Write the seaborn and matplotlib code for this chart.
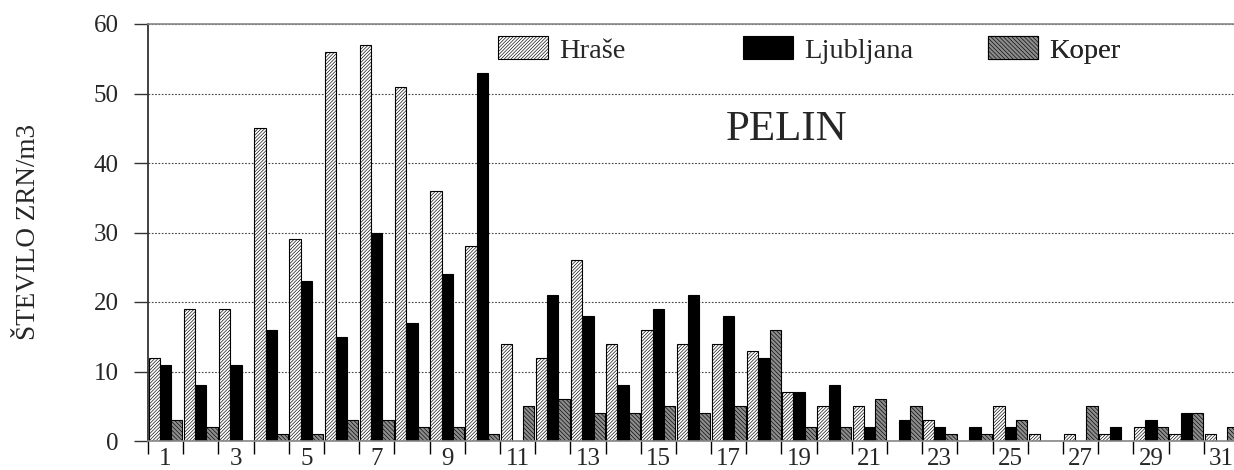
import pandas as pd
import numpy as np
import matplotlib.pyplot as plt
import seaborn as sns
from matplotlib.patches import Patch
from matplotlib.ticker import MultipleLocator

# ==============================================================
# Podatki (dnevne koncentracije peloda pelina)
# ==============================================================

dnevi = list(range(1, 32))
hrase = [12, 19, 19, 45, 29, 56, 57, 51, 36, 28, 14, 12, 26, 14, 16, 14,
         14, 13, 7, 5, 5, 0, 3, 0, 5, 1, 1, 1, 2, 1, 1]
ljubljana = [11, 8, 11, 16, 23, 15, 30, 17, 24, 53, 0, 21, 18, 8, 19, 21,
             18, 12, 7, 8, 2, 3, 2, 2, 2, 0, 0, 2, 3, 4, 0]
koper = [3, 2, 0, 1, 1, 3, 3, 2, 2, 1, 5, 6, 4, 4, 5, 4,
         5, 16, 2, 2, 6, 5, 1, 1, 3, 0, 5, 0, 2, 4, 2]
postaje = ["Hraše", "Ljubljana", "Koper"]
y_ticks = [0, 10, 20, 30, 40, 50, 60]

df = pd.DataFrame({
    "dan": dnevi * 3,
    "postaja": np.repeat(postaje, len(dnevi)),
    "vrednost": hrase + ljubljana + koper,
})

# Configuration graphique
sns.set_style("white")
plt.rcParams['font.family'] = ['Liberation Serif', 'DejaVu Serif']
plt.rcParams['hatch.linewidth'] = 0.45

fig = plt.figure(figsize=(12.34, 4.70), dpi=100)
ax = fig.add_axes([148 / 1234, 29 / 470, 1091 / 1234, 417 / 470])

sns.barplot(data=df, x="dan", y="vrednost", hue="postaja", hue_order=postaje,
            palette=["white", "black", "white"], saturation=1, width=0.96,
            gap=0, errorbar=None, legend=False, ax=ax,
            edgecolor="black", linewidth=0.8)

# hatch za posamezne postaje
H_HATCH = "//////////"
K_HATCH = "\\\\\\\\\\\\\\\\"
stili = {0: ("white", H_HATCH), 1: ("black", None), 2: ("#8c8c8c", K_HATCH)}
for i, cont in enumerate(ax.containers):
    fc, h = stili[i]
    for bar in cont:
        bar.set_facecolor(fc)
        if h:
            bar.set_hatch(h)

ax.set_xlim(-0.5, 30.5)
ax.set_ylim(0, 60)
ax.set_yticks(y_ticks)
ax.tick_params(axis="y", direction="out", length=10, width=1, color="#333333",
               labelsize=18, pad=11, left=True)

ax.set_xticks(range(0, 31, 2))
ax.set_xticklabels([str(d) for d in dnevi[::2]], fontsize=18)
ax.xaxis.set_minor_locator(MultipleLocator(1, offset=0.5))
ax.tick_params(axis="x", which="major", length=0, pad=5)
ax.tick_params(axis="x", which="minor", direction="out", length=9, width=1,
               color="black", bottom=True)
ax.set_xlabel("")
ax.set_ylabel("ŠTEVILO ZRN/m3", fontsize=19.5, labelpad=38)

ax.set_axisbelow(True)
ax.yaxis.grid(True, linestyle=(0, (1.5, 1.5)), color="#444444", linewidth=0.8)
for s in ["top", "bottom"]:
    ax.spines[s].set_color("#888888")
    ax.spines[s].set_linewidth(1.2)
ax.spines["left"].set_color("#333333")
ax.spines["left"].set_linewidth(1.3)
ax.spines["right"].set_visible(False)

ax.text(0.585, 0.746, "PELIN", transform=ax.transAxes, fontsize=31,
        ha="center", va="center")

# legenda: vsaka postaja posebej, enakomerno razporejene
handles = [Patch(facecolor="white", edgecolor="black", hatch=H_HATCH, linewidth=0.8),
           Patch(facecolor="black", edgecolor="black", linewidth=0.8),
           Patch(facecolor="#8c8c8c", edgecolor="black", hatch=K_HATCH, linewidth=0.8)]
for h, lab, xa in zip(handles, postaje, [0.3208, 0.5454, 0.770]):
    leg = ax.legend([h], [lab], loc="center left", bbox_to_anchor=(xa, 0.938),
                    frameon=False, fontsize=20.5, handlelength=1.76, handleheight=0.88,
                    handletextpad=0.4, borderpad=0, borderaxespad=0)
    ax.add_artist(leg)

fig.savefig("out.png", dpi=100)
